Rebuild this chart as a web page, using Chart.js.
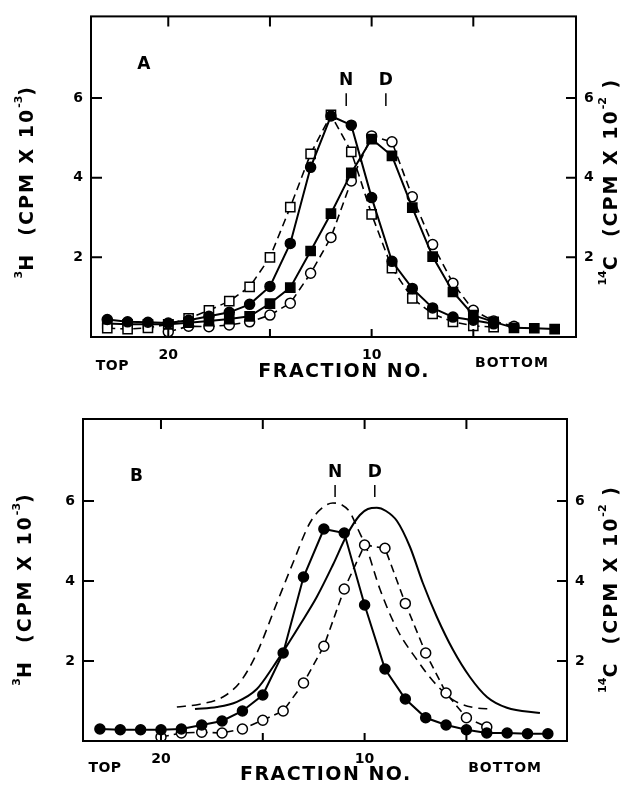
<!DOCTYPE html>
<html>
<head>
<meta charset="utf-8">
<script src="https://cdn.jsdelivr.net/npm/chart.js@4.4.0/dist/chart.umd.min.js"></script>
<style>
  html, body { margin: 0; padding: 0; background: #fff; }
  #wrap { position: relative; width: 640px; height: 788px; }
  canvas { position: absolute; left: 0; }
  #chartA { top: 0; }
  #chartB { top: 400px; }
</style>
</head>
<body>
<div id="wrap">
  <canvas id="chartA" width="640" height="400"></canvas>
  <canvas id="chartB" width="640" height="388"></canvas>
</div>
<script>
// fraction numbers, top of the gradient first
const fractions = [23, 22, 21, 20, 19, 18, 17, 16, 15, 14, 13, 12, 11, 10, 9, 8, 7, 6, 5, 4, 3, 2, 1];
const xTickValues = [20, 15, 10, 5];
const xTickLabels = [20, 10];
const yTickValues = [2, 4, 6];

// panel A
const aOpenSquares = [0.22, 0.2, 0.23, 0.32, 0.47, 0.67, 0.9, 1.26, 2.0, 3.26, 4.6, 5.58, 4.65, 3.08, 1.73, 0.97, 0.58, 0.38, 0.28, 0.25]; // fr 23-4
const aFilledCircles = [0.44, 0.38, 0.37, 0.35, 0.42, 0.52, 0.62, 0.82, 1.27, 2.35, 4.26, 5.55, 5.32, 3.5, 1.9, 1.22, 0.73, 0.5, 0.42, 0.33]; // fr 23-4
const aFilledSquares = [0.34, 0.32, 0.32, 0.32, 0.36, 0.4, 0.45, 0.52, 0.84, 1.24, 2.16, 3.1, 4.12, 4.97, 4.55, 3.25, 2.02, 1.13, 0.55, 0.38, 0.23, 0.22, 0.2]; // fr 23-1
const aOpenCircles = [0.13, 0.27, 0.26, 0.3, 0.38, 0.55, 0.85, 1.6, 2.5, 3.92, 5.05, 4.9, 3.52, 2.32, 1.35, 0.67, 0.4, 0.27]; // fr 20-3

// panel B
const bFilledCircles = [0.3, 0.28, 0.28, 0.28, 0.3, 0.4, 0.5, 0.75, 1.15, 2.2, 4.1, 5.3, 5.2, 3.4, 1.8, 1.05, 0.58, 0.4, 0.28, 0.2, 0.2, 0.18, 0.18]; // fr 23-1
const bOpenCircles = [0.1, 0.2, 0.22, 0.2, 0.3, 0.52, 0.75, 1.45, 2.37, 3.8, 4.9, 4.82, 3.44, 2.2, 1.2, 0.58, 0.35]; // fr 20-4
// reference profiles (no markers)
const bRefNFrac = [19.22, 18.09, 16.96, 16.12, 15.29, 14.31, 13.52, 12.69, 12.1, 11.56, 11.11, 10.72, 10.33, 9.89, 9.25, 8.41, 7.43, 6.64, 5.66, 4.68, 3.7];
const bRefNVal = [0.85, 0.92, 1.1, 1.47, 2.2, 3.45, 4.45, 5.45, 5.82, 5.95, 5.9, 5.72, 5.3, 4.8, 3.8, 2.8, 2.03, 1.5, 1.03, 0.84, 0.8];
const bRefDFrac = [18.33, 17.25, 16.27, 15.29, 14.5, 13.67, 13.18, 12.35, 11.56, 10.87, 10.23, 9.84, 9.4, 8.95, 8.41, 7.77, 7.14, 6.45, 5.66, 4.83, 3.99, 3.01, 1.39];
const bRefDVal = [0.8, 0.85, 0.98, 1.3, 1.85, 2.5, 2.9, 3.6, 4.4, 5.15, 5.65, 5.8, 5.83, 5.75, 5.5, 4.85, 3.95, 3.1, 2.28, 1.6, 1.1, 0.83, 0.7];

Chart.defaults.font.family = '"DejaVu Sans", sans-serif';
Chart.defaults.color = '#000';

const pts = (vals, firstFraction) => {
  const start = fractions.indexOf(firstFraction);
  return vals.map((v, i) => ({ x: fractions[start + i], y: v }));
};

function markerSet(data, filled, shape, dashed) {
  return {
    data,
    borderColor: '#000',
    backgroundColor: filled ? '#000' : '#fff',
    pointBackgroundColor: filled ? '#000' : '#fff',
    pointBorderColor: '#000',
    pointBorderWidth: 1.5,
    pointStyle: shape,
    pointRadius: shape === 'rect' ? 6.5 : 5,
    borderWidth: dashed ? 1.6 : 2,
    borderDash: dashed ? [8, 5] : [],
    tension: 0
  };
}

function curveSet(xs, ys, dashed) {
  return {
    data: xs.map((x, i) => ({ x, y: ys[i] })),
    borderColor: '#000',
    borderWidth: dashed ? 1.6 : 2,
    borderDash: dashed ? [9, 6] : [],
    pointRadius: 0,
    cubicInterpolationMode: 'monotone'
  };
}

function label(ctx, text, px, py, size, spacing) {
  ctx.font = `bold ${size}px "DejaVu Sans"`;
  ctx.letterSpacing = spacing + 'px';
  ctx.textAlign = 'center';
  ctx.textBaseline = 'middle';
  ctx.fillText(text, px, py);
}

// vertical axis title reading bottom to top, with superscripts
function richTitle(ctx, parts, cx, cy, size, spacing) {
  ctx.save();
  ctx.translate(cx, cy);
  ctx.rotate(-Math.PI / 2);
  ctx.textBaseline = 'middle';
  ctx.textAlign = 'left';
  const setFont = sup => {
    ctx.font = `bold ${sup ? Math.round(size * 0.6) : size}px "DejaVu Sans"`;
    ctx.letterSpacing = (sup ? 0 : spacing) + 'px';
  };
  let total = 0;
  parts.forEach(([t, sup]) => { setFont(sup); total += ctx.measureText(t).width; });
  let pos = -total / 2;
  parts.forEach(([t, sup]) => {
    setFont(sup);
    ctx.fillText(t, pos, sup ? -size * 0.45 : 0);
    pos += ctx.measureText(t).width;
  });
  ctx.restore();
}

const decor = {
  id: 'decor',
  afterDraw(chart, args, o) {
    const { ctx, chartArea: ca } = chart;
    const x = chart.scales.x, y = chart.scales.y;
    ctx.save();
    ctx.strokeStyle = '#000';
    ctx.fillStyle = '#000';
    ctx.lineWidth = 2;
    ctx.strokeRect(ca.left, ca.top, ca.width, ca.height);

    // tick marks point into the plot
    ctx.beginPath();
    xTickValues.forEach(v => {
      const px = x.getPixelForValue(v);
      ctx.moveTo(px, ca.bottom); ctx.lineTo(px, ca.bottom - 8);
      ctx.moveTo(px, ca.top); ctx.lineTo(px, ca.top + 10);
    });
    yTickValues.forEach(v => {
      const py = y.getPixelForValue(v);
      ctx.moveTo(ca.left, py); ctx.lineTo(ca.left + 11, py);
      ctx.moveTo(ca.right, py); ctx.lineTo(ca.right - 10, py);
    });
    ctx.stroke();

    // panel letter and N / D markers
    label(ctx, o.letter, x.getPixelForValue(o.letterAt[0]), y.getPixelForValue(o.letterAt[1]), 17, 0);
    ctx.lineWidth = 1.5;
    o.marks.forEach(m => {
      const px = x.getPixelForValue(m.at);
      label(ctx, m.text, px, y.getPixelForValue(o.markY), 17, 0);
      ctx.beginPath();
      ctx.moveTo(px, y.getPixelForValue(o.markLine[0]));
      ctx.lineTo(px, y.getPixelForValue(o.markLine[1]));
      ctx.stroke();
    });

    // x axis words
    label(ctx, 'TOP', x.getPixelForValue(22.75), ca.bottom + o.topDy, 14, 0.5);
    label(ctx, 'BOTTOM', x.getPixelForValue(3.1), ca.bottom + o.bottomDy, 14, 1);
    label(ctx, 'FRACTION NO.', x.getPixelForValue(o.titleAt), ca.bottom + o.titleDy, 19, 1.5);

    // y axis titles
    const cy = y.getPixelForValue(o.yTitleAt);
    richTitle(ctx, [['3', 1], ['H  (CPM X 10', 0], ['-3', 1], [')', 0]], o.leftTitleX, cy, 19, 2);
    richTitle(ctx, [['14', 1], ['C  (CPM X 10', 0], ['-2', 1], [' )', 0]], o.rightTitleX, cy, 19, 2);
    ctx.restore();
  }
};

function makeChart(id, datasets, lay, extra) {
  const tickFont = { size: 14, weight: 'bold' };
  const yAxis = (pos, width) => ({
    type: 'linear',
    position: pos,
    min: 0,
    max: 8.05,
    grid: { display: false, drawTicks: false },
    border: { display: false },
    afterBuildTicks: a => { a.ticks = yTickValues.map(v => ({ value: v })); },
    ticks: { font: tickFont, padding: 8, color: '#000' },
    afterFit: s => { s.width = width; }
  });
  return new Chart(document.getElementById(id), {
    type: 'line',
    data: { datasets },
    options: {
      responsive: false,
      animation: false,
      devicePixelRatio: 1,
      layout: { padding: { top: lay.top, left: 0, right: 0, bottom: 0 } },
      plugins: { legend: { display: false }, tooltip: { enabled: false }, decor: extra },
      scales: {
        x: {
          type: 'linear',
          reverse: true,
          min: lay.xMin,
          max: lay.xMax,
          grid: { display: false, drawTicks: false },
          border: { display: false },
          afterBuildTicks: a => { a.ticks = xTickValues.map(v => ({ value: v })); },
          ticks: {
            font: tickFont, padding: 10, color: '#000', maxRotation: 0, autoSkip: false,
            callback: v => xTickLabels.includes(v) ? String(v) : ''
          },
          afterFit: s => { s.height = lay.xHeight; }
        },
        y: yAxis('left', lay.left),
        y2: yAxis('right', lay.right)
      }
    },
    plugins: [decor]
  });
}

makeChart('chartA', [
  markerSet(pts(aFilledCircles, 23), true, 'circle', false),
  markerSet(pts(aOpenSquares, 23), false, 'rect', true),
  markerSet(pts(aFilledSquares, 23), true, 'rect', false),
  markerSet(pts(aOpenCircles, 20), false, 'circle', true)
], { top: 15, left: 91, right: 64, xHeight: 63, xMin: -0.05, xMax: 23.8 }, {
  letter: 'A', letterAt: [21.2, 6.85],
  marks: [{ text: 'N', at: 11.25 }, { text: 'D', at: 9.3 }],
  markY: 6.45, markLine: [6.12, 5.8],
  topDy: 29, bottomDy: 26, titleDy: 35, titleAt: 11.35,
  yTitleAt: 3.9, leftTitleX: 28, rightTitleX: 612
});

makeChart('chartB', [
  markerSet(pts(bFilledCircles, 23), true, 'circle', false),
  markerSet(pts(bOpenCircles, 20), false, 'circle', true),
  curveSet(bRefNFrac, bRefNVal, true),
  curveSet(bRefDFrac, bRefDVal, false)
], { top: 19, left: 83, right: 73, xHeight: 47, xMin: 0.06, xMax: 23.83 }, {
  letter: 'B', letterAt: [21.2, 6.62],
  marks: [{ text: 'N', at: 11.45 }, { text: 'D', at: 9.5 }],
  markY: 6.72, markLine: [6.4, 6.1],
  topDy: 27, bottomDy: 27, titleDy: 34, titleAt: 11.9,
  yTitleAt: 3.8, leftTitleX: 26, rightTitleX: 612
});
</script>
</body>
</html>
